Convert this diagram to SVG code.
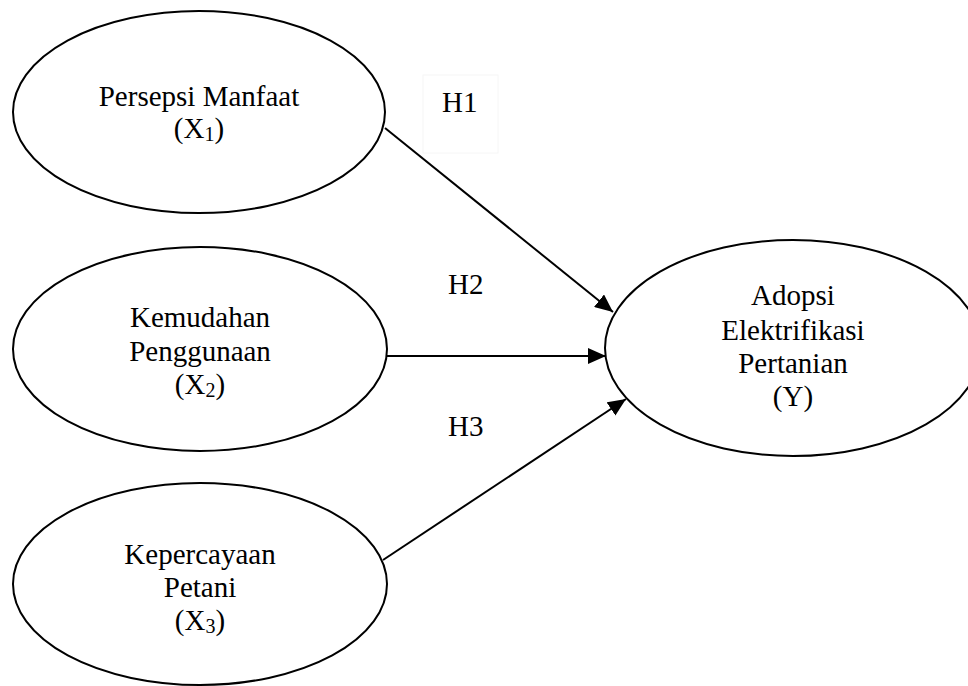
<svg xmlns="http://www.w3.org/2000/svg" width="968" height="686" viewBox="0 0 968 686">
  <style>
    .node { fill: #ffffff; stroke: #000000; stroke-width: 2; }
    .lbl { font-family: "Liberation Serif", "Times New Roman", serif; font-size: 29px; fill: #000000; text-anchor: middle; }
    .h { font-family: "Liberation Serif", "Times New Roman", serif; font-size: 29px; fill: #000000; }
    .edge { stroke: #000000; stroke-width: 2; fill: none; marker-end: url(#arrow); }
  </style>
  <defs>
    <marker id="arrow" markerUnits="userSpaceOnUse" markerWidth="19" markerHeight="16" refX="18" refY="8" orient="auto">
      <path d="M0,0 L18,8 L0,16 Z" fill="#000000"/>
    </marker>
  </defs>
  <rect width="968" height="686" fill="#ffffff"/>

  <g id="x1">
    <ellipse class="node" cx="199" cy="112" rx="186" ry="101"/>
    <text class="lbl" x="199" y="106">Persepsi Manfaat</text>
    <text class="lbl" x="199" y="138">(X<tspan font-size="20" dy="3">1</tspan><tspan dy="-3">)</tspan></text>
  </g>

  <g id="x2">
    <ellipse class="node" cx="200" cy="349" rx="187" ry="102"/>
    <text class="lbl" x="200" y="327">Kemudahan</text>
    <text class="lbl" x="200" y="361">Penggunaan</text>
    <text class="lbl" x="200" y="394">(X<tspan font-size="20" dy="3">2</tspan><tspan dy="-3">)</tspan></text>
  </g>

  <g id="x3">
    <ellipse class="node" cx="200" cy="584" rx="187" ry="101"/>
    <text class="lbl" x="200" y="564">Kepercayaan</text>
    <text class="lbl" x="200" y="597">Petani</text>
    <text class="lbl" x="200" y="630">(X<tspan font-size="20" dy="3">3</tspan><tspan dy="-3">)</tspan></text>
  </g>

  <g id="y">
    <ellipse class="node" cx="793" cy="348" rx="188" ry="108"/>
    <text class="lbl" x="793" y="305">Adopsi</text>
    <text class="lbl" x="793" y="340">Elektrifikasi</text>
    <text class="lbl" x="793" y="373">Pertanian</text>
    <text class="lbl" x="793" y="406">(Y)</text>
  </g>

  <g id="connectors">
    <line class="edge" x1="385" y1="128" x2="613" y2="312"/>
    <line class="edge" x1="387" y1="356" x2="606" y2="356"/>
    <line class="edge" x1="383" y1="560" x2="626" y2="399"/>
  </g>

  <g id="labels">
    <rect x="423" y="75" width="75" height="78" fill="none" stroke="#f6f6f6" stroke-width="1"/>
    <text class="h" x="442" y="112">H1</text>
    <text class="h" x="448" y="294">H2</text>
    <text class="h" x="448" y="436">H3</text>
  </g>
</svg>
